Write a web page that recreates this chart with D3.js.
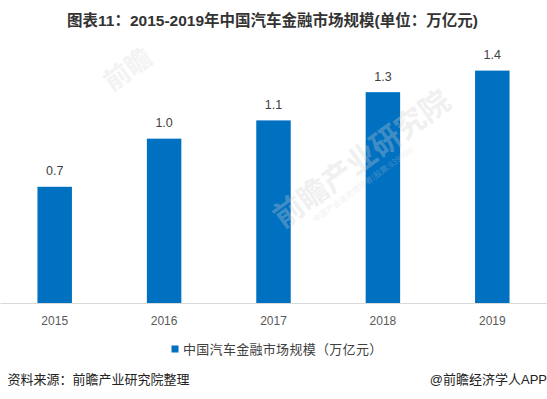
<!DOCTYPE html>
<html>
<head>
<meta charset="utf-8">
<script src="https://cdn.jsdelivr.net/npm/d3@7.9.0/dist/d3.min.js"></script>
<style>
  html, body { margin: 0; padding: 0; background: #fff; }
  svg { display: block; }
</style>
</head>
<body>
<div id="chart"></div>
<script>
// chart data
const years = ['2015', '2016', '2017', '2018', '2019'];
const values = [0.70, 0.99, 1.10, 1.27, 1.40];
const title = '图表11：2015-2019年中国汽车金融市场规模(单位：万亿元)';
const seriesName = '中国汽车金融市场规模（万亿元）';
const source = '资料来源：前瞻产业研究院整理';
const credit = '@前瞻经济学人APP';

const width = 547;
const height = 399;
const font = '"Liberation Sans", Arial, "Noto Sans CJK SC", sans-serif';
const barColor = '#0070C0';

const svg = d3.select('#chart')
    .append('svg')
    .attr('width', width)
    .attr('height', height)
    .attr('viewBox', `0 0 ${width} ${height}`)
    .style('font-family', font);

const baseline = 303;

const xScale = d3.scaleBand()
    .domain(years)
    .range([0, width])
    .paddingInner(0.685)
    .paddingOuter(0.3425);

const yScale = d3.scaleLinear()
    .domain([0, 1.6])
    .range([baseline, 37.4]);

// title
svg.append('text')
    .attr('x', width / 2 - 1)
    .attr('y', 26)
    .attr('text-anchor', 'middle')
    .attr('font-size', 15.5)
    .attr('font-weight', 'bold')
    .attr('fill', '#333')
    .text(title);

// bars
svg.append('g')
    .selectAll('rect')
    .data(values)
    .join('rect')
    .attr('x', (d, i) => xScale(years[i]))
    .attr('y', (d) => yScale(d))
    .attr('width', xScale.bandwidth())
    .attr('height', (d) => baseline - yScale(d))
    .attr('fill', barColor);

// value labels
svg.append('g')
    .selectAll('text')
    .data(values)
    .join('text')
    .attr('x', (d, i) => xScale(years[i]) + xScale.bandwidth() / 2)
    .attr('y', (d) => yScale(d) - 11.5)
    .attr('text-anchor', 'middle')
    .attr('font-size', 12.5)
    .attr('fill', '#404040')
    .text((d) => d3.format('.1f')(d));

// watermark (faint)
const wm = svg.append('g')
    .attr('transform', 'translate(283,229) rotate(-36)')
    .attr('fill', '#d0d0d0')
    .attr('opacity', 0.3);
wm.append('text')
    .attr('font-size', 30)
    .attr('font-weight', 'bold')
    .attr('font-family', '"Noto Sans CJK SC", sans-serif')
    .text('前瞻产业研究院');
wm.append('text')
    .attr('x', 30)
    .attr('y', 14)
    .attr('font-size', 8)
    .attr('font-family', '"Noto Sans CJK SC", sans-serif')
    .text('中国产业咨询领导者(股票:839599)');

const wm2 = svg.append('g')
    .attr('transform', 'translate(112,92) rotate(-36)')
    .attr('fill', '#d0d0d0')
    .attr('opacity', 0.25);
wm2.append('text')
    .attr('font-size', 26)
    .attr('font-weight', 'bold')
    .attr('font-family', '"Noto Sans CJK SC", sans-serif')
    .text('前瞻');

// x axis
const xAxis = svg.append('g')
    .attr('transform', `translate(0, ${baseline})`)
    .call(d3.axisBottom(xScale).tickSize(0).tickPadding(13.5));

xAxis.select('.domain').attr('stroke', '#d9d9d9');
xAxis.selectAll('text')
    .attr('font-size', 12)
    .attr('font-family', font)
    .attr('fill', '#595959');

// legend
const legend = svg.append('g');
legend.append('rect')
    .attr('x', 171.5)
    .attr('y', 345.5)
    .attr('width', 7)
    .attr('height', 7)
    .attr('fill', barColor);
legend.append('text')
    .attr('x', 183)
    .attr('y', 354)
    .attr('font-size', 13)
    .attr('fill', '#404040')
    .attr('letter-spacing', 0.3)
    .text(seriesName);

// footer
svg.append('text')
    .attr('x', 7.5)
    .attr('y', 384)
    .attr('font-size', 13)
    .attr('fill', '#222')
    .text(source);

svg.append('text')
    .attr('x', width)
    .attr('y', 384)
    .attr('text-anchor', 'end')
    .attr('font-size', 13)
    .attr('fill', '#222')
    .text(credit);
</script>
</body>
</html>
